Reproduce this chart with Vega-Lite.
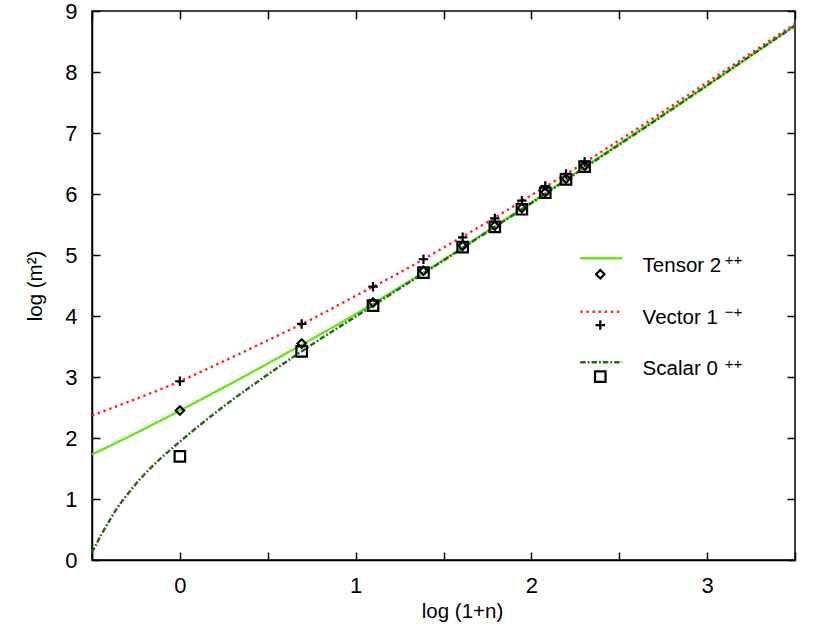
{
  "$schema": "https://vega.github.io/schema/vega-lite/v6.json",
  "width": 703,
  "height": 549,
  "autosize": "none",
  "padding": {"left": 92, "top": 11, "right": 36, "bottom": 74},
  "background": "white",
  "config": {
    "view": {"stroke": "black", "strokeWidth": 1.5},
    "font": "Liberation Sans",
    "axis": {"grid": false}
  },
  "datasets": {
    "curves": [
      {"series": "Tensor", "x": -0.5, "y": 1.73}, {"series": "Tensor", "x": -0.25, "y": 2.08},
      {"series": "Tensor", "x": 0, "y": 2.45}, {"series": "Tensor", "x": 0.25, "y": 2.83},
      {"series": "Tensor", "x": 0.5, "y": 3.22}, {"series": "Tensor", "x": 0.75, "y": 3.62},
      {"series": "Tensor", "x": 1, "y": 4.03}, {"series": "Tensor", "x": 1.25, "y": 4.47},
      {"series": "Tensor", "x": 1.5, "y": 4.92}, {"series": "Tensor", "x": 1.75, "y": 5.39},
      {"series": "Tensor", "x": 2, "y": 5.86}, {"series": "Tensor", "x": 2.25, "y": 6.34},
      {"series": "Tensor", "x": 2.5, "y": 6.82}, {"series": "Tensor", "x": 2.75, "y": 7.30},
      {"series": "Tensor", "x": 3, "y": 7.78}, {"series": "Tensor", "x": 3.25, "y": 8.27},
      {"series": "Tensor", "x": 3.5, "y": 8.76},
      {"series": "Vector", "x": -0.5, "y": 2.37}, {"series": "Vector", "x": -0.25, "y": 2.64},
      {"series": "Vector", "x": 0, "y": 2.93}, {"series": "Vector", "x": 0.25, "y": 3.26},
      {"series": "Vector", "x": 0.5, "y": 3.60}, {"series": "Vector", "x": 0.75, "y": 3.95},
      {"series": "Vector", "x": 1, "y": 4.33}, {"series": "Vector", "x": 1.25, "y": 4.71},
      {"series": "Vector", "x": 1.5, "y": 5.12}, {"series": "Vector", "x": 1.75, "y": 5.54},
      {"series": "Vector", "x": 2, "y": 5.98}, {"series": "Vector", "x": 2.25, "y": 6.42},
      {"series": "Vector", "x": 2.5, "y": 6.88}, {"series": "Vector", "x": 2.75, "y": 7.35},
      {"series": "Vector", "x": 3, "y": 7.83}, {"series": "Vector", "x": 3.25, "y": 8.31},
      {"series": "Vector", "x": 3.5, "y": 8.79},
      {"series": "Scalar", "x": -0.5, "y": 0.12}, {"series": "Scalar", "x": -0.45, "y": 0.40},
      {"series": "Scalar", "x": -0.4, "y": 0.65}, {"series": "Scalar", "x": -0.35, "y": 0.88},
      {"series": "Scalar", "x": -0.3, "y": 1.07}, {"series": "Scalar", "x": -0.2, "y": 1.41},
      {"series": "Scalar", "x": -0.1, "y": 1.69}, {"series": "Scalar", "x": 0, "y": 1.94},
      {"series": "Scalar", "x": 0.25, "y": 2.52}, {"series": "Scalar", "x": 0.5, "y": 3.04},
      {"series": "Scalar", "x": 0.75, "y": 3.53}, {"series": "Scalar", "x": 1, "y": 3.99},
      {"series": "Scalar", "x": 1.25, "y": 4.45}, {"series": "Scalar", "x": 1.5, "y": 4.91},
      {"series": "Scalar", "x": 1.75, "y": 5.38}, {"series": "Scalar", "x": 2, "y": 5.85},
      {"series": "Scalar", "x": 2.25, "y": 6.33}, {"series": "Scalar", "x": 2.5, "y": 6.81},
      {"series": "Scalar", "x": 2.75, "y": 7.29}, {"series": "Scalar", "x": 3, "y": 7.78},
      {"series": "Scalar", "x": 3.25, "y": 8.27}, {"series": "Scalar", "x": 3.5, "y": 8.76}
    ],
    "points": [
      {"series": "Tensor", "x": 0, "y": 2.45}, {"series": "Tensor", "x": 0.693, "y": 3.55},
      {"series": "Tensor", "x": 1.099, "y": 4.22}, {"series": "Tensor", "x": 1.386, "y": 4.74},
      {"series": "Tensor", "x": 1.609, "y": 5.15}, {"series": "Tensor", "x": 1.792, "y": 5.48},
      {"series": "Tensor", "x": 1.946, "y": 5.77}, {"series": "Tensor", "x": 2.079, "y": 6.03},
      {"series": "Tensor", "x": 2.197, "y": 6.25}, {"series": "Tensor", "x": 2.303, "y": 6.46},
      {"series": "Vector", "x": 0, "y": 2.93}, {"series": "Vector", "x": 0.693, "y": 3.87},
      {"series": "Vector", "x": 1.099, "y": 4.48}, {"series": "Vector", "x": 1.386, "y": 4.93},
      {"series": "Vector", "x": 1.609, "y": 5.29}, {"series": "Vector", "x": 1.792, "y": 5.60},
      {"series": "Vector", "x": 1.946, "y": 5.89}, {"series": "Vector", "x": 2.079, "y": 6.13},
      {"series": "Vector", "x": 2.197, "y": 6.33}, {"series": "Vector", "x": 2.303, "y": 6.53},
      {"series": "Scalar", "x": 0, "y": 1.70}, {"series": "Scalar", "x": 0.693, "y": 3.42},
      {"series": "Scalar", "x": 1.099, "y": 4.17}, {"series": "Scalar", "x": 1.386, "y": 4.71},
      {"series": "Scalar", "x": 1.609, "y": 5.13}, {"series": "Scalar", "x": 1.792, "y": 5.46},
      {"series": "Scalar", "x": 1.946, "y": 5.75}, {"series": "Scalar", "x": 2.079, "y": 6.02},
      {"series": "Scalar", "x": 2.197, "y": 6.24}, {"series": "Scalar", "x": 2.303, "y": 6.45}
    ],
    "legendLines": [
      {"series": "Tensor", "x": 2.278, "y": 4.946}, {"series": "Tensor", "x": 2.517, "y": 4.946},
      {"series": "Vector", "x": 2.278, "y": 4.07}, {"series": "Vector", "x": 2.517, "y": 4.07},
      {"series": "Scalar", "x": 2.278, "y": 3.241}, {"series": "Scalar", "x": 2.517, "y": 3.241}
    ],
    "legendPoints": [
      {"series": "Tensor", "x": 2.392, "y": 4.684},
      {"series": "Vector", "x": 2.392, "y": 3.852},
      {"series": "Scalar", "x": 2.392, "y": 3.005}
    ],
    "legendText": [
      {"text": "Tensor 2", "x": 2.633, "y": 4.82, "sup": "++", "sx": 3.1, "sy": 4.91},
      {"text": "Vector 1", "x": 2.633, "y": 3.967, "sup": "−+", "sx": 3.1, "sy": 4.06},
      {"text": "Scalar 0", "x": 2.633, "y": 3.123, "sup": "++", "sx": 3.1, "sy": 3.21}
    ]
  },
  "resolve": {"axis": {"x": "independent", "y": "independent"}},
  "layer": [
    {
      "data": {"name": "curves"},
      "mark": {"type": "line", "strokeWidth": 2.5, "interpolate": "monotone", "clip": true},
      "encoding": {
        "x": {
          "field": "x", "type": "quantitative",
          "scale": {"domain": [-0.5, 3.5], "nice": false, "zero": false},
          "axis": {
            "orient": "bottom",
            "values": [-0.5, 0, 0.5, 1, 1.5, 2, 2.5, 3, 3.5],
            "labelExpr": "datum.value % 1 === 0 ? format(datum.value, 'd') : ''",
            "tickSize": -8, "tickColor": "black", "tickWidth": 1.5,
            "domainColor": "black", "domainWidth": 1.5,
            "labelFontSize": 22, "labelColor": "black", "labelPadding": 23,
            "labelFlush": false,
            "title": "log (1+n)", "titleFontSize": 20.5, "titleFontWeight": "normal",
            "titleColor": "black", "titlePadding": 5, "titleX": 370
          }
        },
        "y": {
          "field": "y", "type": "quantitative",
          "scale": {"domain": [0, 9], "nice": false, "zero": false},
          "axis": {
            "orient": "left",
            "values": [0, 1, 2, 3, 4, 5, 6, 7, 8, 9],
            "tickSize": -8, "tickColor": "black", "tickWidth": 1.5,
            "domainColor": "black", "domainWidth": 1.5,
            "labelFontSize": 22, "labelColor": "black", "labelPadding": 23,
            "labelFlush": false,
            "title": "log (m²)", "titleFontSize": 20.5, "titleFontWeight": "normal",
            "titleColor": "black", "titlePadding": 19
          }
        },
        "color": {
          "field": "series", "type": "nominal", "legend": null,
          "scale": {"domain": ["Tensor", "Vector", "Scalar"], "range": ["#6ee524", "#ff2a2a", "#2a6a1c"]}
        },
        "strokeDash": {
          "field": "series", "type": "nominal", "legend": null,
          "scale": {"domain": ["Tensor", "Vector", "Scalar"], "range": [[1, 0], [2.5, 3.6], [5.5, 2, 1.8, 2]]}
        }
      }
    },
    {
      "data": {"name": "legendLines"},
      "mark": {"type": "line", "strokeWidth": 2.5},
      "encoding": {
        "x": {"field": "x", "type": "quantitative", "axis": null},
        "y": {"field": "y", "type": "quantitative", "axis": null},
        "color": {"field": "series", "type": "nominal", "legend": null},
        "strokeDash": {"field": "series", "type": "nominal", "legend": null}
      }
    },
    {
      "data": {"name": "points"},
      "mark": {"type": "point", "filled": false, "stroke": "black", "strokeWidth": 2.2, "opacity": 1},
      "encoding": {
        "x": {"field": "x", "type": "quantitative", "axis": null},
        "y": {"field": "y", "type": "quantitative", "axis": null},
        "shape": {
          "field": "series", "type": "nominal", "legend": null,
          "scale": {"domain": ["Tensor", "Vector", "Scalar"], "range": ["diamond", "M-1,0H1M0,-1V1", "square"]}
        },
        "size": {
          "field": "series", "type": "nominal", "legend": null,
          "scale": {"domain": ["Tensor", "Vector", "Scalar"], "range": [70, 110, 95]}
        }
      }
    },
    {
      "data": {"name": "legendPoints"},
      "mark": {"type": "point", "filled": false, "stroke": "black", "strokeWidth": 2.2, "opacity": 1},
      "encoding": {
        "x": {"field": "x", "type": "quantitative", "axis": null},
        "y": {"field": "y", "type": "quantitative", "axis": null},
        "shape": {"field": "series", "type": "nominal", "legend": null},
        "size": {"field": "series", "type": "nominal", "legend": null}
      }
    },
    {
      "data": {"name": "legendText"},
      "mark": {"type": "text", "align": "left", "baseline": "middle", "fontSize": 20.5, "color": "black"},
      "encoding": {
        "x": {"field": "x", "type": "quantitative", "axis": null},
        "y": {"field": "y", "type": "quantitative", "axis": null},
        "text": {"field": "text"}
      }
    },
    {
      "data": {"name": "legendText"},
      "mark": {"type": "text", "align": "left", "baseline": "middle", "fontSize": 15, "color": "black"},
      "encoding": {
        "x": {"field": "sx", "type": "quantitative", "axis": null},
        "y": {"field": "sy", "type": "quantitative", "axis": null},
        "text": {"field": "sup"}
      }
    },
    {
      "data": {"name": "curves"},
      "mark": {"type": "point", "opacity": 0},
      "encoding": {
        "x": {
          "field": "x", "type": "quantitative",
          "axis": {
            "orient": "top", "values": [-0.5, 0, 0.5, 1, 1.5, 2, 2.5, 3, 3.5],
            "labels": false, "title": null, "domain": false,
            "tickSize": -8, "tickColor": "black", "tickWidth": 1.5
          }
        },
        "y": {
          "field": "y", "type": "quantitative",
          "axis": {
            "orient": "right", "values": [0, 1, 2, 3, 4, 5, 6, 7, 8, 9],
            "labels": false, "title": null, "domain": false,
            "tickSize": -8, "tickColor": "black", "tickWidth": 1.5
          }
        }
      }
    }
  ]
}
